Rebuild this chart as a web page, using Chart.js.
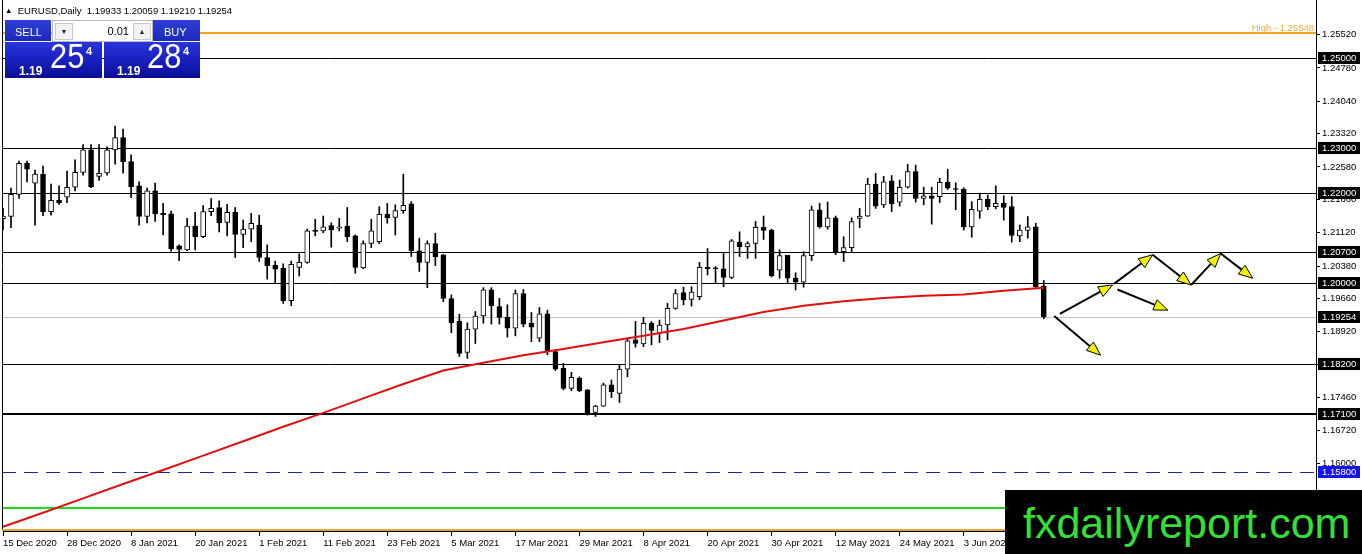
<!DOCTYPE html>
<html><head><meta charset="utf-8">
<script src="https://cdn.jsdelivr.net/npm/chart.js@4.4.1/dist/chart.umd.min.js"></script>
<style>
html,body{margin:0;padding:0;background:#fff;}
#wrap{position:relative;width:1362px;height:554px;overflow:hidden;font-family:"Liberation Sans",Arial,sans-serif;}
#c{position:absolute;left:0;top:0;}
.abs{position:absolute;line-height:1;white-space:pre;}
#hdr{left:5px;top:6px;font-size:9.5px;color:#000;}
#tri{font-size:7.5px;position:relative;top:-1px;}
.btn{position:absolute;top:20px;height:21px;background:linear-gradient(#2f3fd6,#1a28bd);color:#fff;font-size:11px;}
.btn span{position:absolute;top:6px;}
#spin{position:absolute;left:52px;top:20px;width:99px;height:20px;background:#fff;border:1px solid #b8b8c8;}
.sb{position:absolute;top:2px;width:16px;height:15px;background:#f2f2f2;border:1px solid #c9c9c9;font-size:7px;color:#222;text-align:center;line-height:15px;}
#lot{position:absolute;right:23px;top:5px;font-size:11px;color:#000;line-height:1;}
.pbox{position:absolute;top:42px;height:36px;background:linear-gradient(#2a34dc 0%,#1a22c4 45%,#0a0f92 100%);color:#fff;}
.pbox .s{position:absolute;font-size:12px;font-weight:bold;top:22.8px;line-height:1;}
.pbox .b{position:absolute;font-size:35px;top:-3.6px;line-height:1;transform:scaleX(0.88);transform-origin:0 0;}
.pbox .u{position:absolute;font-size:11px;font-weight:bold;top:3.7px;line-height:1;}
#wm{left:1005px;top:490px;width:357px;height:64px;background:#000;}
#wm span{position:absolute;left:18px;top:11.6px;font-size:43px;color:#35e035;line-height:1;}
</style></head>
<body>
<div id="wrap">
<canvas id="c" width="1362" height="554"></canvas>
<div id="hdr" class="abs"><span id="tri">▲</span>  EURUSD,Daily  1.19933 1.20059 1.19210 1.19254</div>
<div class="btn" style="left:5px;width:46px;"><span style="left:10px">SELL</span></div>
<div id="spin"><div class="sb" style="left:2px">▼</div><span id="lot">0.01</span><div class="sb" style="right:1px">▲</div></div>
<div class="btn" style="left:153px;width:47px;"><span style="left:11px">BUY</span></div>
<div class="pbox" style="left:5px;width:97px;"><span class="s" style="left:14px">1.19</span><span class="b" style="left:45px">25</span><span class="u" style="left:81px">4</span></div>
<div class="pbox" style="left:104px;width:96px;"><span class="s" style="left:13px">1.19</span><span class="b" style="left:43px">28</span><span class="u" style="left:79px">4</span></div>
<div id="wm" class="abs"><span>fxdailyreport.com</span></div>
</div>
<script>
// ---- data ----
const tickLabels = ['15 Dec 2020','28 Dec 2020','8 Jan 2021','20 Jan 2021','1 Feb 2021','11 Feb 2021','23 Feb 2021','5 Mar 2021','17 Mar 2021','29 Mar 2021','8 Apr 2021','20 Apr 2021','30 Apr 2021','12 May 2021','24 May 2021','3 Jun 2021'];
const yTickValues = [1.2552,1.2478,1.2404,1.2332,1.2258,1.2186,1.2112,1.2038,1.1966,1.1892,1.1820,1.1746,1.1672,1.1600];

const opens = [1.2143,1.2148,1.2197,1.2266,1.2222,1.2242,1.2159,1.2184,1.2191,1.2213,
1.2246,1.2296,1.2237,1.2245,1.2296,1.2323,1.2270,1.2216,1.2148,1.2205,
1.2155,1.2154,1.2083,1.2074,1.2127,1.2103,1.2159,1.2168,1.2135,1.2157,
1.2108,1.2120,1.2129,1.2057,1.2040,1.2033,1.1961,1.2035,1.2046,1.2116,
1.2116,1.2128,1.2122,1.2127,1.2105,1.2034,1.2088,1.2092,1.2153,1.2146,
1.2161,1.2176,1.2072,1.2046,1.2088,1.2063,1.1966,1.1915,1.1846,1.1898,
1.1927,1.1985,1.1948,1.1924,1.1900,1.1977,1.1911,1.1878,1.1932,1.1848,
1.1811,1.1766,1.1789,1.1763,1.1713,1.1727,1.1774,1.1755,1.1809,1.1874,
1.1865,1.1911,1.1889,1.1907,1.1944,1.1979,1.1964,1.1970,1.2035,1.2033,
1.2032,1.2013,1.2091,1.2081,1.2088,1.2124,1.2118,1.2029,1.2062,1.2011,
1.2002,1.2061,1.2163,1.2125,1.2145,1.2070,1.2079,1.2144,1.2149,1.2220,
1.2174,1.2227,1.2180,1.2213,1.2248,1.2188,1.2194,1.2192,1.2224,1.2210,
1.2209,1.2125,1.2160,1.2186,1.2170,1.2177,1.2170,1.2105,1.2117,1.2125,
1.19933];
const highs = [1.2166,1.2211,1.2271,1.2271,1.2251,1.2260,1.2220,1.2216,1.2249,1.2274,
1.2308,1.2308,1.2308,1.2303,1.2349,1.2342,1.2285,1.2225,1.2211,1.2222,
1.2177,1.2160,1.2085,1.2144,1.2157,1.2172,1.2188,1.2183,1.2175,1.2168,
1.2140,1.2155,1.2151,1.2085,1.2049,1.2043,1.2049,1.2065,1.2120,1.2142,
1.2149,1.2134,1.2144,1.2168,1.2107,1.2094,1.2142,1.2170,1.2177,1.2174,
1.2242,1.2181,1.2100,1.2094,1.2111,1.2064,1.1974,1.1931,1.1912,1.1937,
1.1990,1.1990,1.1966,1.1952,1.1985,1.1986,1.1935,1.1946,1.1940,1.1852,
1.1822,1.1802,1.1792,1.1764,1.1729,1.1778,1.1785,1.1818,1.1878,1.1915,
1.1924,1.1915,1.1918,1.1955,1.1986,1.1991,1.1992,1.2046,1.2077,1.2037,
1.2066,1.2097,1.2114,1.2092,1.2137,1.2149,1.2120,1.2074,1.2062,1.2023,
1.2070,1.2171,1.2177,1.2180,1.2149,1.2103,1.2145,1.2166,1.2233,1.2244,
1.2237,1.2239,1.2229,1.2264,1.2262,1.2213,1.2213,1.2233,1.2253,1.2223,
1.2212,1.2181,1.2200,1.2196,1.2216,1.2194,1.2192,1.2129,1.2148,1.2133,
1.20059];
const lows = [1.2118,1.2123,1.2188,1.2225,1.2129,1.2150,1.2151,1.2175,1.2179,1.2205,
1.2240,1.2212,1.2228,1.2240,1.2264,1.2244,1.2190,1.2129,1.2134,1.2137,
1.2107,1.2071,1.2050,1.2072,1.2074,1.2101,1.2150,1.2114,1.2105,1.2057,
1.2079,1.2092,1.2048,1.2009,1.2001,1.1955,1.1950,1.2016,1.2044,1.2105,
1.2112,1.2080,1.2116,1.2092,1.2022,1.2032,1.2079,1.2088,1.2133,1.2107,
1.2155,1.2059,1.2026,1.1990,1.2039,1.1959,1.1890,1.1837,1.1833,1.1866,
1.1911,1.1909,1.1909,1.1880,1.1883,1.1903,1.1870,1.1870,1.1841,1.1806,
1.1763,1.1761,1.1759,1.1707,1.1704,1.1726,1.1746,1.1735,1.1792,1.1858,
1.1859,1.1863,1.1868,1.1874,1.1942,1.1952,1.1949,1.1963,1.2018,1.2000,
1.1992,1.2010,1.2059,1.2055,1.2055,1.2097,1.2014,1.2011,1.2001,1.1985,
1.1991,1.2050,1.2122,1.2120,1.2063,1.2048,1.2070,1.2123,1.2148,1.2166,
1.2168,1.2159,1.2171,1.2211,1.2180,1.2174,1.2131,1.2179,1.2208,1.2163,
1.2118,1.2102,1.2144,1.2163,1.2165,1.2140,1.2091,1.2092,1.2100,1.1990,
1.19210];
const closes = [1.2149,1.2197,1.2266,1.2253,1.2242,1.2159,1.2184,1.2179,1.2213,1.2246,
1.2296,1.2214,1.2244,1.2296,1.2323,1.2270,1.2214,1.2148,1.2205,1.2154,
1.2152,1.2076,1.2075,1.2127,1.2103,1.2159,1.2166,1.2134,1.2157,1.2108,
1.2120,1.2133,1.2057,1.2039,1.2031,1.1961,1.2042,1.2046,1.2116,1.2115,
1.2125,1.2118,1.2125,1.2103,1.2035,1.2088,1.2116,1.2153,1.2145,1.2161,
1.2173,1.2072,1.2046,1.2088,1.2059,1.1966,1.1912,1.1844,1.1898,1.1927,
1.1985,1.1950,1.1924,1.1900,1.1977,1.1909,1.1902,1.1932,1.1848,1.1809,
1.1766,1.1791,1.1761,1.1709,1.1727,1.1774,1.1759,1.1809,1.1872,1.1866,
1.1911,1.1895,1.1907,1.1944,1.1977,1.1963,1.1980,1.2035,1.2032,1.2032,
1.2013,1.2094,1.2081,1.2088,1.2124,1.2117,1.2016,1.2061,1.2011,1.2002,
1.2061,1.2163,1.2125,1.2145,1.2070,1.2079,1.2137,1.2149,1.2220,1.2171,
1.2225,1.2176,1.2213,1.2248,1.2188,1.2194,1.2188,1.2224,1.2211,1.2208,
1.2125,1.2164,1.2186,1.2170,1.2177,1.2168,1.2106,1.2118,1.2125,1.1992,
1.19254];

const maIndex = [0,5,10,15,20,25,30,35,40,45,50,55,60,65,70,75,80,85,90,95,100,105,110,115,120,125,130];
const maValues = [1.1459,1.1490,1.1522,1.1554,1.1585,1.1617,1.1649,1.1681,1.1712,1.1744,1.1776,1.1806,1.1823,1.1840,1.1854,1.1869,1.1883,1.1898,1.1917,1.1936,1.1950,1.1960,1.1967,1.1972,1.1975,1.1983,1.1990];

const levelPrices = [1.25,1.23,1.22,1.207,1.20,1.182];
const boldLevelPrices = [1.171];
const highPrice = 1.25548;
const bidPrice = 1.19254;
const dashedPrice = 1.158;
const greenPrice = 1.15;
// arrows: [startIndex, startPrice, endIndex, endPrice]
const arrows = [
  [132.0,1.1932,138.6,1.1996],
  [138.8,1.1999,143.6,1.2063],
  [143.6,1.2063,148.4,1.1996],
  [148.4,1.1996,152.1,1.2066],
  [152.1,1.2066,156.1,1.2011],
  [131.3,1.1927,137.1,1.1840],
  [139.2,1.1986,145.5,1.1940]
];
const yMin = 1.144959, yMax = 1.262880;
const slotCount = 165;

// ---- chart ----
const FONT = '"Liberation Sans", Arial, sans-serif';
Chart.defaults.font.family = FONT;
Chart.defaults.font.size = 9.5;
Chart.defaults.color = '#000';

const slots = Array.from({length: slotCount}, (_, i) => i);
const isLabelTick = i => Number.isInteger(i) && i % 8 === 0 && (i / 8) < tickLabels.length;
const tickIdx = c => (c.tick && c.tick.value !== undefined) ? c.tick.value : c.index;

const levelsPlugin = {
  id: 'levels',
  beforeDatasetsDraw(chart) {
    const {ctx, chartArea: a, scales: {y}} = chart;
    const line = (p, color, w, dash) => {
      let py = y.getPixelForValue(p);
      py = (w % 2 === 1) ? Math.round(py) + 0.5 : Math.round(py);
      ctx.save();
      ctx.strokeStyle = color; ctx.lineWidth = w; ctx.setLineDash(dash || []);
      ctx.beginPath(); ctx.moveTo(a.left - 1, py); ctx.lineTo(a.right, py); ctx.stroke();
      ctx.restore();
    };
    line(greenPrice, '#18e018', 2);
    line(dashedPrice, '#22229a', 1, [14, 8]);
    line(bidPrice, '#c0c0c0', 1);
    levelPrices.forEach(p => line(p, '#000', 1));
    boldLevelPrices.forEach(p => line(p, '#000', 2));
    line(highPrice, '#f7a21b', 2);
    ctx.save();
    ctx.fillStyle = '#f2ad3c';
    ctx.font = '9.5px ' + FONT;
    ctx.textAlign = 'right'; ctx.textBaseline = 'alphabetic';
    ctx.fillText('High - ' + highPrice.toFixed(5), a.right - 2, y.getPixelForValue(highPrice) - 2);
    ctx.restore();
  },
  afterDatasetsDraw(chart) {
    const {ctx, scales: {x, y}} = chart;
    ctx.save();
    arrows.forEach(([i0, p0, i1, p1]) => {
      const x0 = x.getPixelForValue(i0), y0 = y.getPixelForValue(p0);
      const x1 = x.getPixelForValue(i1), y1 = y.getPixelForValue(p1);
      const ang = Math.atan2(y1 - y0, x1 - x0);
      const L = 14, W = 5.5;
      const bx = x1 - L * Math.cos(ang), by = y1 - L * Math.sin(ang);
      ctx.strokeStyle = '#000'; ctx.lineWidth = 2;
      ctx.beginPath(); ctx.moveTo(x0, y0); ctx.lineTo(bx, by); ctx.stroke();
      ctx.beginPath();
      ctx.moveTo(x1, y1);
      ctx.lineTo(bx + W * Math.sin(ang), by - W * Math.cos(ang));
      ctx.lineTo(bx - W * Math.sin(ang), by + W * Math.cos(ang));
      ctx.closePath();
      ctx.fillStyle = '#f4f400'; ctx.fill();
      ctx.lineWidth = 1; ctx.stroke();
    });
    ctx.restore();
  },
  afterDraw(chart) {
    const {ctx, chartArea: a, scales: {y}} = chart;
    ctx.save();
    ctx.strokeStyle = '#000'; ctx.lineWidth = 1;
    ctx.beginPath(); ctx.moveTo(2.5, 0); ctx.lineTo(2.5, a.bottom); ctx.stroke();
    ctx.strokeStyle = '#e6a23c'; ctx.lineWidth = 2;
    ctx.beginPath(); ctx.moveTo(a.left - 1, a.bottom - 1); ctx.lineTo(a.right, a.bottom - 1); ctx.stroke();
    const box = (p, bg) => {
      const py = Math.round(y.getPixelForValue(p));
      ctx.fillStyle = bg; ctx.fillRect(a.right + 2, py - 6, 42, 12);
      ctx.fillStyle = '#fff'; ctx.font = '9.5px ' + FONT;
      ctx.textAlign = 'left'; ctx.textBaseline = 'middle';
      ctx.fillText(p.toFixed(5), a.right + 6, py + 0.5);
    };
    levelPrices.concat(boldLevelPrices).forEach(p => box(p, '#000'));
    box(bidPrice, '#000');
    box(dashedPrice, '#1414f0');
    ctx.restore();
  }
};

new Chart(document.getElementById('c'), {
  type: 'bar',
  data: {
    labels: slots,
    datasets: [
      {
        label: 'Wick', data: lows.map((l, i) => [l, highs[i]]),
        backgroundColor: '#000', barThickness: 1, grouped: false, order: 3
      },
      {
        label: 'Body', data: opens.map((o, i) => [o, closes[i]]),
        backgroundColor: ctx => (closes[ctx.dataIndex] >= opens[ctx.dataIndex] ? '#ffffff' : '#000000'),
        borderColor: '#000', borderWidth: 1, borderSkipped: false,
        barThickness: 5, minBarLength: 1, grouped: false, order: 2
      },
      {
        type: 'line', label: 'MA', data: maIndex.map((ix, k) => ({x: ix, y: maValues[k]})),
        borderColor: '#e01010', borderWidth: 2, pointRadius: 0, tension: 0, order: 1
      }
    ]
  },
  options: {
    responsive: false, animation: false,
    layout: {padding: {left: 3, top: 0, right: 0, bottom: 0}},
    plugins: {legend: {display: false}, tooltip: {enabled: false}},
    scales: {
      x: {
        type: 'category', offset: false,
        grid: {
          offset: false,
          drawOnChartArea: false, drawTicks: true, tickLength: 5, tickWidth: 1,
          color: c => isLabelTick(tickIdx(c)) ? '#000' : 'rgba(0,0,0,0)',
          tickColor: c => isLabelTick(tickIdx(c)) ? '#000' : 'rgba(0,0,0,0)'
        },
        border: {display: true, color: '#000', width: 1},
        ticks: {
          autoSkip: false, maxRotation: 0, minRotation: 0, align: 'start', padding: 2,
          font: {size: 9.5, family: FONT}, color: '#000',
          callback: (v, i) => isLabelTick(i) ? tickLabels[i / 8] : ''
        },
        afterFit: s => { s.height = 23; s.paddingLeft = 0; s.paddingRight = 0; }
      },
      y: {
        type: 'linear', position: 'right', min: yMin, max: yMax,
        grid: {drawOnChartArea: false, drawTicks: true, tickLength: 4, color: '#000', tickColor: '#000'},
        border: {display: true, color: '#000', width: 1},
        ticks: {
          autoSkip: false, padding: 2, font: {size: 9.5, family: FONT}, color: '#000',
          callback: v => Number(v).toFixed(5)
        },
        afterBuildTicks: s => { s.ticks = yTickValues.map(v => ({value: v})); },
        afterFit: s => { s.width = 46; s.paddingTop = 0; s.paddingBottom = 0; }
      }
    }
  },
  plugins: [levelsPlugin]
});
</script>
</body></html>
